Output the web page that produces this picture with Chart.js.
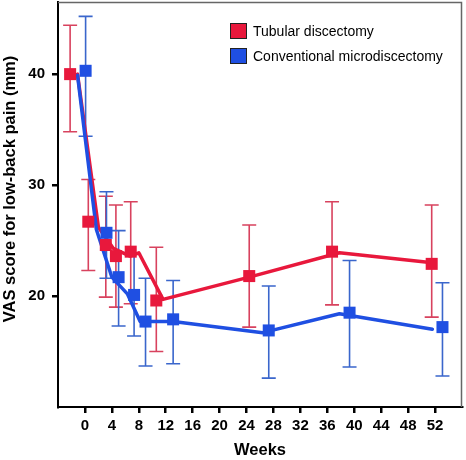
<!DOCTYPE html>
<html><head><meta charset="utf-8">
<style>html,body{margin:0;padding:0;background:#fff}#wrap{width:466px;height:460px}</style>
<script src="https://cdn.jsdelivr.net/npm/chart.js@4.4.0/dist/chart.umd.min.js"></script>
</head><body><div id="wrap"><canvas id="c" width="466" height="460"></canvas></div>
<script>
// ---- data ----
const seriesNames = ['Tubular discectomy', 'Conventional microdiscectomy'];
const xTickLabels = [0, 4, 8, 12, 16, 20, 24, 28, 32, 36, 40, 44, 48, 52];
const yTickLabels = [20, 30, 40];

// markers (dodged in time) with 95% CI
const redWeeks = [-2.2, 0.5, 3.1, 4.6, 6.8, 10.6, 24.4, 36.7, 51.5];
const redMean  = [40.0, 26.7, 24.6, 23.6, 24.0, 19.6, 21.8, 24.0, 22.9];
const redHigh  = [44.4, 30.5, 29.0, 28.2, 28.5, 24.4, 26.4, 28.5, 28.2];
const redLow   = [34.8, 22.3, 19.9, 19.0, 19.3, 15.0, 17.2, 19.2, 18.1];

const blueWeeks = [0.1, 3.2, 5.0, 7.3, 9.0, 13.1, 27.3, 39.3, 53.1];
const blueMean  = [40.3, 25.7, 21.7, 20.1, 17.7, 17.9, 16.9, 18.5, 17.2];
const blueHigh  = [45.2, 29.4, 25.9, 23.8, 21.6, 21.4, 20.9, 23.2, 21.2];
const blueLow   = [34.4, 21.6, 17.3, 16.4, 13.7, 13.9, 12.6, 13.6, 12.8];

// trend lines
const redLineWeeks  = [-1.1, 2.0, 4.2, 6.7, 8.0, 11.6, 24.4, 37.8, 51.6];
const redLineVals   = [40.0, 26.2, 24.3, 23.6, 23.9, 19.7, 21.7, 23.9, 23.0];
const blueLineWeeks = [-1.1, 1.7, 4.0, 6.3, 8.2, 13.1, 26.4, 37.8, 51.6];
const blueLineVals  = [39.9, 26.0, 21.7, 20.2, 17.7, 17.7, 16.7, 18.4, 17.0];

// ---- style ----
const FONT = "'Liberation Sans', Arial, Helvetica, sans-serif";
const RED = '#E8183C', BLUE = '#1F4FE2';
const RED_BAR = '#D8425E', BLUE_BAR = '#3A66CC';

const pts = (xs, ys) => xs.map((x, i) => ({x: x, y: ys[i]}));

const errorBars = {
  id: 'errorBars',
  beforeDatasetsDraw(chart) {
    const {ctx, scales: {x, y}} = chart;
    const sets = [
      [redWeeks, redLow, redHigh, RED_BAR],
      [blueWeeks, blueLow, blueHigh, BLUE_BAR]
    ];
    ctx.save();
    ctx.lineWidth = 1.6;
    sets.forEach(([w, lo, hi, col]) => {
      ctx.strokeStyle = col;
      w.forEach((wk, i) => {
        const px = x.getPixelForValue(wk);
        const pl = y.getPixelForValue(lo[i]);
        const ph = y.getPixelForValue(hi[i]);
        ctx.beginPath();
        ctx.moveTo(px, pl); ctx.lineTo(px, ph);
        ctx.moveTo(px - 7, pl); ctx.lineTo(px + 7, pl);
        ctx.moveTo(px - 7, ph); ctx.lineTo(px + 7, ph);
        ctx.stroke();
      });
    });
    ctx.restore();
  }
};

const decor = {
  id: 'decor',
  afterDraw(chart) {
    const {ctx, chartArea: a} = chart;
    ctx.save();
    // top/right frame
    ctx.strokeStyle = '#666';
    ctx.lineWidth = 1.5;
    ctx.beginPath();
    ctx.moveTo(a.left, a.top + 0.5);
    ctx.lineTo(a.right - 0.5, a.top + 0.5);
    ctx.lineTo(a.right - 0.5, a.bottom);
    ctx.stroke();
    // y-axis title
    ctx.fillStyle = '#000';
    ctx.font = "bold 16.5px " + FONT;
    ctx.textAlign = 'center';
    ctx.textBaseline = 'middle';
    ctx.translate(10, 189);
    ctx.rotate(-Math.PI / 2);
    ctx.fillText('VAS score for low-back pain (mm)', 0, 0);
    ctx.restore();
    // legend
    ctx.save();
    const cols = [RED, BLUE];
    ctx.font = "14px " + FONT;
    ctx.textAlign = 'left';
    ctx.textBaseline = 'middle';
    seriesNames.forEach((n, i) => {
      const cy = 31 + i * 25;
      ctx.fillStyle = cols[i];
      ctx.fillRect(230, cy - 8, 17, 16);
      ctx.strokeStyle = '#222';
      ctx.lineWidth = 1;
      ctx.strokeRect(230.5, cy - 7.5, 16, 15);
      ctx.fillStyle = '#000';
      ctx.fillText(n, 253, cy + 1);
    });
    ctx.restore();
  }
};

const tickFont = {family: FONT, size: 15, weight: 'bold'};
const noPad = s => { s.paddingTop = 0; s.paddingBottom = 0; s.paddingLeft = 0; s.paddingRight = 0; };

new Chart(document.getElementById('c'), {
  type: 'line',
  data: {
    datasets: [
      {label: seriesNames[1] + ' markers', type: 'scatter', data: pts(blueWeeks, blueMean),
       pointStyle: 'rect', pointRadius: 8.5, backgroundColor: BLUE, borderWidth: 0, showLine: false, order: 1, clip: false},
      {label: seriesNames[0] + ' markers', type: 'scatter', data: pts(redWeeks, redMean),
       pointStyle: 'rect', pointRadius: 8.5, backgroundColor: RED, borderWidth: 0, showLine: false, order: 2, clip: false},
      {label: seriesNames[1], data: pts(blueLineWeeks, blueLineVals), borderColor: BLUE,
       borderWidth: 3.5, pointRadius: 0, fill: false, tension: 0, order: 3, borderJoinStyle: 'round', borderCapStyle: 'round'},
      {label: seriesNames[0], data: pts(redLineWeeks, redLineVals), borderColor: RED,
       borderWidth: 3.5, pointRadius: 0, fill: false, tension: 0, order: 4, borderJoinStyle: 'round', borderCapStyle: 'round'}
    ]
  },
  options: {
    responsive: false,
    animation: false,
    layout: {autoPadding: false, padding: {top: 2, right: 4, left: 0, bottom: 0}},
    plugins: {legend: {display: false}, tooltip: {enabled: false}},
    scales: {
      x: {
        type: 'linear', min: -4, max: 56,
        afterBuildTicks: s => { s.ticks = xTickLabels.map(v => ({value: v})); },
        afterFit: s => { s.height = 53; noPad(s); },
        grid: {drawOnChartArea: false, drawTicks: true, tickLength: 6, lineWidth: 2.5, color: '#000'},
        border: {display: true, color: '#000', width: 2},
        ticks: {font: tickFont, color: '#000', padding: 4, maxRotation: 0, autoSkip: false},
        title: {display: true, text: 'Weeks', color: '#000',
                font: {family: FONT, size: 16.5, weight: 'bold'}, padding: {top: 0, bottom: 0}}
      },
      y: {
        type: 'linear', min: 10, max: 46.5,
        afterBuildTicks: s => { s.ticks = yTickLabels.map(v => ({value: v})); },
        afterFit: s => { s.width = 58; noPad(s); },
        grid: {drawOnChartArea: false, drawTicks: true, tickLength: 6, lineWidth: 2.5, color: '#000'},
        border: {display: true, color: '#000', width: 2},
        ticks: {font: tickFont, color: '#000', padding: 7},
        title: {display: false}
      }
    }
  },
  plugins: [errorBars, decor]
});
</script>
</body></html>
